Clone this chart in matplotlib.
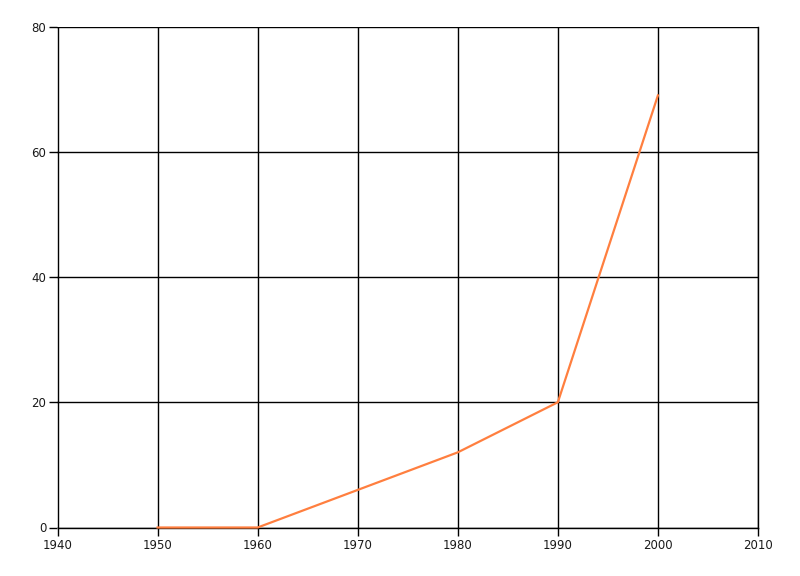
import matplotlib
matplotlib.use("Agg")
import matplotlib.pyplot as plt

years = [1950, 1960, 1970, 1980, 1990, 2000]
values = [0, 0, 6, 12, 20, 69]

xticks = [1940, 1950, 1960, 1970, 1980, 1990, 2000, 2010]
yticks = [0, 20, 40, 60, 80]

fig = plt.figure(figsize=(8, 5.76), dpi=100)
ax = fig.add_axes([57.5 / 800, 1 - 527.5 / 576, 700.5 / 800, 501 / 576])

ax.plot(years, values, color="#FF7F3F", linewidth=1.6, solid_joinstyle="miter",
        zorder=3, clip_on=False)

ax.set_xlim(1940, 2010)
ax.set_ylim(0, 80)
ax.set_xticks(xticks)
ax.set_yticks(yticks)
ax.grid(True, color="black", linewidth=1)
ax.set_axisbelow(True)

# grid lines draw the left/top edges, spines the clipped ones
for side in ["left", "top"]:
    ax.spines[side].set_visible(False)
for side in ["right", "bottom"]:
    ax.spines[side].set_color("black")
    ax.spines[side].set_linewidth(1)

ax.tick_params(axis="both", direction="out", length=6, width=1, color="black",
               labelsize=8.5, labelcolor="#1a1a1a", pad=2)

fig.savefig("out.png", dpi=100)
